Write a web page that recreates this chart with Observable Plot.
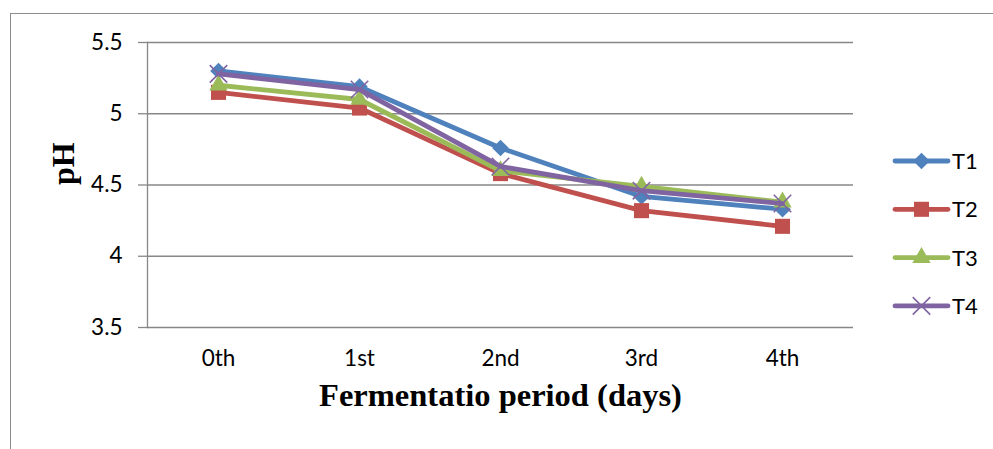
<!DOCTYPE html>
<html>
<head>
<meta charset="utf-8">
<script src="https://cdn.jsdelivr.net/npm/d3@7"></script>
<script src="https://cdn.jsdelivr.net/npm/@observablehq/plot@0.6"></script>
<style>
  html, body { margin: 0; padding: 0; background: #fff; overflow: hidden; }
  #wrap { position: relative; width: 993px; height: 449px; }
  #border { position: absolute; left: 10px; top: 13px; width: 1000px; height: 500px;
            border-left: 1.5px solid #8c8c8c; border-top: 1.5px solid #8c8c8c; }
  #chart { position: absolute; left: 0; top: 0; }
</style>
</head>
<body>
<div id="wrap"><div id="border"></div><div id="chart"></div></div>
<script>
// pH during fermentation, four treatments
const days = ["0th", "1st", "2nd", "3rd", "4th"];
const treatments = ["T1", "T2", "T3", "T4"];
const phT1 = [5.30, 5.19, 4.76, 4.42, 4.33];
const phT2 = [5.15, 5.04, 4.58, 4.32, 4.21];
const phT3 = [5.20, 5.10, 4.60, 4.49, 4.38];
const phT4 = [5.28, 5.17, 4.63, 4.46, 4.37];
const yTicks = [3.5, 4, 4.5, 5, 5.5];

const values = [phT1, phT2, phT3, phT4];

// drawing style for each treatment
const look = {
  T1: { color: "#4F81BD", symbol: "diamond2", r: 7.5 },
  T2: { color: "#C0504D", symbol: "square",   r: 8.5 },
  T3: { color: "#9BBB59", symbol: "triangle", r: 6.8 },
  T4: { color: "#8064A2", symbol: "times",    r: 8 }
};

const rows = treatments.map((t, k) =>
  days.map((d, i) => ({ day: d, ph: values[k][i], treatment: t }))
);

const grid = "#878787";
const seriesMarks = rows.flatMap((data, k) => {
  const s = look[treatments[k]];
  const dot = s.symbol === "times"
    ? Plot.dot(data, { x: "day", y: "ph", symbol: () => s.symbol, r: s.r, stroke: s.color, strokeWidth: 1.6, fill: "none" })
    : Plot.dot(data, { x: "day", y: "ph", symbol: () => s.symbol, r: s.r, fill: s.color, stroke: "none" });
  return [
    Plot.line(data, { x: "day", y: "ph", stroke: s.color, strokeWidth: 4.8, curve: "linear",
                      strokeLinecap: "round", strokeLinejoin: "round" }),
    dot
  ];
});

const chart = Plot.plot({
  width: 993,
  height: 449,
  marginLeft: 147,
  marginRight: 140,
  marginTop: 42,
  marginBottom: 122,
  style: { fontFamily: "Lato, sans-serif", fontSize: "22.5px", color: "#000", background: "transparent" },
  x: { type: "point", domain: days, padding: 0.5 },
  y: { domain: [3.5, 5.5] },
  symbol: { type: "identity" },
  marks: [
    Plot.gridY(yTicks, { stroke: grid, strokeOpacity: 1, strokeWidth: 1.3 }),
    Plot.frame({ anchor: "left", stroke: grid, strokeWidth: 1.3 }),
    Plot.axisY(yTicks, { tickSize: 9, tickPadding: 16, stroke: grid, strokeWidth: 1.3, label: null,
                         fill: "#000", tickFormat: (d) => String(d) }),
    Plot.axisX(days, { tickSize: 0, tickPadding: 23, label: null, fill: "#000" }),
    ...seriesMarks,
    Plot.text(["Fermentatio period (days)"], {
      frameAnchor: "bottom", dy: 78, fontFamily: "'Liberation Serif', serif",
      fontWeight: "bold", fontSize: 32.5, fill: "#000"
    }),
    Plot.text(["pH"], {
      frameAnchor: "left", dx: -84, rotate: -90, fontFamily: "'Liberation Serif', serif",
      fontWeight: "bold", fontSize: 32, fill: "#000"
    })
  ]
});

document.getElementById("chart").appendChild(chart);

// legend on the right-hand side
const svg = d3.select(chart);
const legend = svg.append("g").attr("font-family", "Lato, sans-serif").attr("font-size", 22)
  .attr("text-anchor", "start");
const symbolTypes = { diamond2: d3.symbolDiamond2, square: d3.symbolSquare, triangle: d3.symbolTriangle, times: d3.symbolTimes };
treatments.forEach((t, k) => {
  const s = look[t];
  const g = legend.append("g").attr("transform", `translate(0, ${161 + k * 48.3})`);
  g.append("line").attr("x1", 895).attr("x2", 948).attr("y1", 0).attr("y2", 0)
    .attr("stroke", s.color).attr("stroke-width", 4.8).attr("stroke-linecap", "round");
  const path = g.append("path")
    .attr("transform", "translate(921.5, 0)")
    .attr("d", d3.symbol(symbolTypes[s.symbol], Math.PI * s.r * s.r)());
  if (s.symbol === "times") path.attr("fill", "none").attr("stroke", s.color).attr("stroke-width", 1.6);
  else path.attr("fill", s.color);
  g.append("text").attr("x", 952).attr("y", 0).attr("dy", "0.36em").attr("fill", "#000").text(t);
});
</script>
</body>
</html>
